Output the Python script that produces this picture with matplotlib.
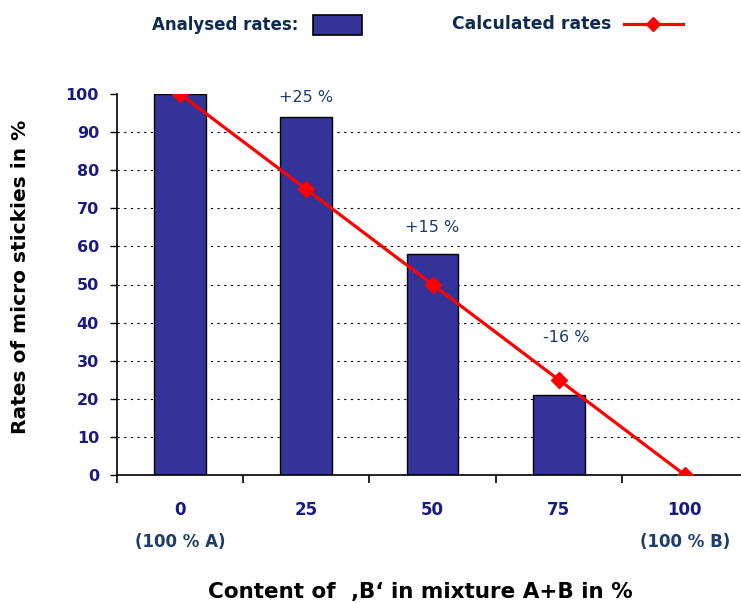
import matplotlib.pyplot as plt
from matplotlib.patches import Rectangle
from matplotlib.lines import Line2D

plt.rcParams['font.family'] = ['DejaVu Sans']

categories = ['0', '25', '50', '75', '100']
analysed = [100, 94, 58, 21]
calculated = [100, 75, 50, 25, 0]
changes = ['', '+25 %', '+15 %', '-16 %']
change_x = [0, 1, 2, 3.06]
change_y = [None, 97, 63, 34]
end_labels = {0: '(100 % A)', 4: '(100 % B)'}

navy = '#1a1a80'
text_blue = '#1f3d6b'

fig = plt.figure(figsize=(7.41, 6.03), dpi=100)
# axis runs off the right edge like in the original
ax = fig.add_axes([117 / 741, 128 / 603, 631 / 741, 381 / 603])

x = list(range(len(categories)))
ax.bar(x[:len(analysed)], analysed, width=0.41, color='#333399',
       edgecolor='black', linewidth=1, zorder=2)
ax.plot(x, calculated, color='#ff0000', linewidth=2.3, marker='D',
        markersize=8, zorder=3)

for i, txt in enumerate(changes):
    if txt:
        ax.text(change_x[i], change_y[i], txt, ha='center', va='bottom',
                fontsize=11.5, color=text_blue)

ax.set_xlim(-0.5, 4.5)
ax.set_ylim(0, 100)
ax.set_yticks(range(0, 101, 10))
ax.set_yticklabels([str(v) for v in range(0, 101, 10)], fontsize=11.5,
                   fontweight='bold', color=navy)
ax.set_xticks([i - 0.5 for i in range(6)])
ax.set_xticklabels([])
ax.set_xticks(x, minor=True)
ax.set_xticklabels(categories, minor=True, fontsize=12, fontweight='bold',
                   color=navy)
ax.tick_params(axis='x', which='minor', length=0, pad=19)
ax.tick_params(axis='x', which='major', length=6, direction='out', width=1.2)
ax.tick_params(axis='y', length=5, direction='out', width=1, pad=8)

for i, txt in end_labels.items():
    ax.text(i, -17.5, txt, ha='center', va='center', fontsize=12,
            fontweight='bold', color=text_blue)

for v in range(10, 100, 10):
    ax.axhline(v, color='black', linestyle=(0, (2, 4)), linewidth=0.8,
               zorder=1)

ax.spines['top'].set_visible(False)
ax.spines['right'].set_visible(False)
ax.spines['left'].set_linewidth(1.2)
ax.spines['bottom'].set_linewidth(1.2)

ax.set_ylabel('Rates of micro stickies in %', fontsize=14.5,
              fontweight='bold')
ax.yaxis.set_label_coords(-87 / 631, 0.52)
ax.set_xlabel('Content of  \u201aB\u2018 in mixture A+B in %', fontsize=15.5,
              fontweight='bold')
ax.xaxis.set_label_coords((420 - 117) / 631, -0.28)

# legend drawn across the top
fig.text(152 / 741, 1 - 25 / 603, 'Analysed rates:', fontsize=12,
         fontweight='bold', color='#0f2a50', va='center')
fig.patches.append(Rectangle((313 / 741, 1 - 35 / 603), 49 / 741, 20 / 603,
                             transform=fig.transFigure, facecolor='#333399',
                             edgecolor='black', linewidth=1.2))
fig.text(452 / 741, 1 - 24 / 603, 'Calculated rates', fontsize=12.4,
         fontweight='bold', color='#0f2a50', va='center')
fig.lines.append(Line2D([624 / 741, 683 / 741], [1 - 24 / 603] * 2,
                        transform=fig.transFigure, color='#ff0000',
                        linewidth=2.3))
fig.lines.append(Line2D([653 / 741], [1 - 24 / 603], transform=fig.transFigure,
                        color='#ff0000', marker='D', markersize=7))

fig.savefig('out.png', dpi=100)
